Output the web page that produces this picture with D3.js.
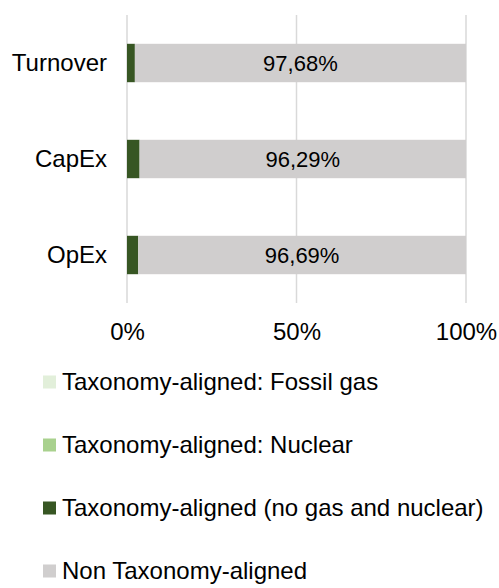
<!DOCTYPE html>
<html>
<head>
<meta charset="utf-8">
<script src="https://cdn.jsdelivr.net/npm/d3@7"></script>
<style>
  body { margin: 0; background: #fff; }
  text { font-family: "Liberation Sans", Arial, sans-serif; fill: #000; }
</style>
</head>
<body>
<svg id="chart" width="499" height="588"></svg>
<script>
// categories and series (percent of total)
var categories = ["Turnover", "CapEx", "OpEx"];
var fossilGas  = [0, 0, 0];
var nuclear    = [0, 0, 0];
var aligned    = [2.32, 3.71, 3.31];
var nonAligned = [97.68, 96.29, 96.69];
var xTicks     = [0, 50, 100];

var keys = ["gas", "nuclear", "aligned", "non"];
var legendLabels = [
    "Taxonomy-aligned: Fossil gas",
    "Taxonomy-aligned: Nuclear",
    "Taxonomy-aligned (no gas and nuclear)",
    "Non Taxonomy-aligned"
];
var legendKeys = ["gas", "nuclear", "aligned", "non"];

var data = categories.map((c, i) => ({
    cat: c,
    gas: fossilGas[i],
    nuclear: nuclear[i],
    aligned: aligned[i],
    non: nonAligned[i]
}));

var svg = d3.select("#chart"),
    margin = {top: 15, left: 127, right: 33, bottom: 285};

var x = d3.scaleLinear()
    .domain([0, 100])
    .range([margin.left, 499 - margin.right]);

var y = d3.scaleBand()
    .domain(categories)
    .range([margin.top, 588 - margin.bottom])
    .paddingInner(0.6)
    .paddingOuter(0.3);

var z = d3.scaleOrdinal()
    .domain(keys)
    .range(["#e2efda", "#a9d18e", "#375623", "#d0cece"]);

var locale = d3.formatLocale({decimal: ",", thousands: ".", grouping: [3], currency: ["", "€"]});
var fmt = locale.format(".2f");

// gridlines
svg.append("g")
    .selectAll("line")
    .data(xTicks)
    .enter().append("line")
    .attr("x1", d => x(d))
    .attr("x2", d => x(d))
    .attr("y1", margin.top)
    .attr("y2", 588 - margin.bottom)
    .attr("stroke", "#d9d9d9")
    .attr("stroke-width", 1.5);

// bars
var stack = d3.stack().keys(keys)(data);

svg.selectAll("g.layer")
    .data(stack)
    .enter().append("g")
    .attr("class", "layer")
    .attr("fill", d => z(d.key))
    .selectAll("rect")
    .data(d => d)
    .enter().append("rect")
    .attr("x", d => x(d[0]))
    .attr("y", d => y(d.data.cat))
    .attr("width", d => x(d[1]) - x(d[0]))
    .attr("height", y.bandwidth());

// labels on the non-aligned part
var nonLayer = stack.find(s => s.key == "non");
svg.selectAll(".barlabel")
    .data(nonLayer)
    .enter().append("text")
    .attr("class", "barlabel")
    .attr("x", d => (x(d[0]) + x(d[1])) / 2)
    .attr("y", d => y(d.data.cat) + y.bandwidth() / 2)
    .attr("dy", "0.35em")
    .attr("text-anchor", "middle")
    .style("font-size", "22px")
    .text(d => fmt(d.data.non) + "%");

// y axis labels
var yAxis = svg.append("g")
    .attr("transform", `translate(${margin.left - 20},0)`)
    .call(d3.axisLeft(y).tickSize(0).tickPadding(0));
yAxis.select(".domain").remove();
yAxis.selectAll("text").style("font-size", "24px").attr("fill", "#000");

// x axis labels
var xAxis = svg.append("g")
    .attr("transform", `translate(0,${588 - margin.bottom + 20})`)
    .call(d3.axisBottom(x).tickValues(xTicks).tickSize(0).tickPadding(0).tickFormat(d => d + "%"));
xAxis.select(".domain").remove();
xAxis.selectAll("text").style("font-size", "24px").attr("fill", "#000").attr("dy", "0.71em");

// legend
var legend = svg.selectAll(".legend")
    .data(legendKeys)
    .enter().append("g")
    .attr("class", "legend")
    .attr("transform", (d, i) => "translate(43," + (382 + i * 63) + ")");

legend.append("rect")
    .attr("x", 0)
    .attr("y", -6.5)
    .attr("width", 13)
    .attr("height", 13)
    .attr("fill", d => z(d));

legend.append("text")
    .attr("x", 19)
    .attr("y", 0)
    .attr("dy", "0.35em")
    .style("font-size", "24px")
    .text((d, i) => legendLabels[i]);
</script>
</body>
</html>
